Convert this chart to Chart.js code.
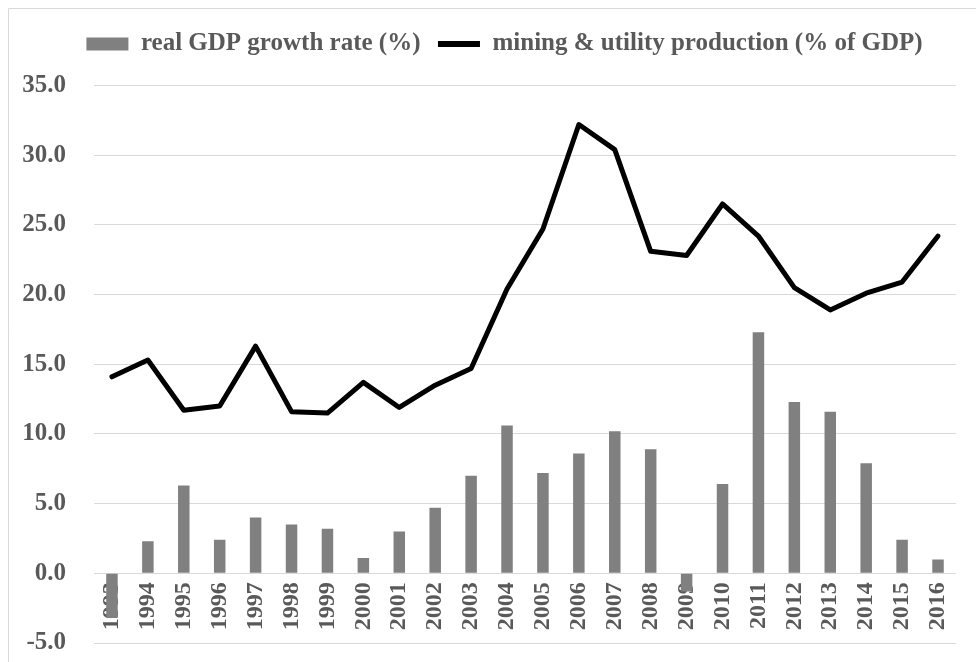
<!DOCTYPE html>
<html>
<head>
<meta charset="utf-8">
<script src="https://cdn.jsdelivr.net/npm/chart.js@4.4.0/dist/chart.umd.min.js"></script>
<style>
  html, body { margin: 0; padding: 0; background: #fff; }
  #chart { display: block; }
</style>
</head>
<body>
<canvas id="chart" width="976" height="662"></canvas>
<script>
const years = ["1993", "1994", "1995", "1996", "1997", "1998", "1999", "2000", "2001", "2002", "2003", "2004",
               "2005", "2006", "2007", "2008", "2009", "2010", "2011", "2012", "2013", "2014", "2015", "2016"];
const gdpGrowth = [-3.2, 2.3, 6.3, 2.4, 4.0, 3.5, 3.2, 1.1, 3.0, 4.7, 7.0, 10.6,
                   7.2, 8.6, 10.2, 8.9, -1.3, 6.4, 17.3, 12.3, 11.6, 7.9, 2.4, 1.0];
const miningShare = [14.1, 15.3, 11.7, 12.0, 16.3, 11.6, 11.5, 13.7, 11.9, 13.5, 14.7, 20.4,
                     24.7, 32.2, 30.4, 23.1, 22.8, 26.5, 24.2, 20.5, 18.9, 20.1, 20.9, 24.2];
const seriesNames = ["real GDP growth rate (%)", "mining & utility production (% of GDP)"];
const yMin = -5, yMax = 35, yStep = 5;

const textColor = "#595959";
const gridColor = "#d9d9d9";
const serif = "'Liberation Serif', 'Times New Roman', serif";

// light frame on left/top like the exported excel chart,
// plus a bit of room under the legend and a nudge to the right
const framePlugin = {
    id: "frame",
    afterInit(chart) {
        const lg = chart.legend;
        const fit = lg.fit;
        lg.fit = function () {
            fit.call(this);
            this.height += 19;
        };
    },
    afterLayout(chart) {
        chart.legend.left += 34;
    },
    beforeDraw(chart) {
        const c = chart.ctx;
        c.save();
        c.fillStyle = "#fff";
        c.fillRect(0, 0, chart.width, chart.height);
        c.strokeStyle = gridColor;
        c.lineWidth = 1;
        c.beginPath();
        c.moveTo(8.5, chart.height);
        c.lineTo(8.5, 8.5);
        c.lineTo(chart.width, 8.5);
        c.stroke();
        c.restore();
    }
};

new Chart(document.getElementById("chart").getContext("2d"), {
    data: {
        labels: years,
        datasets: [
            {
                type: "bar",
                label: seriesNames[0],
                data: gdpGrowth,
                backgroundColor: "#808080",
                borderWidth: 0,
                categoryPercentage: 1,
                barPercentage: 0.32
            },
            {
                type: "line",
                label: seriesNames[1],
                data: miningShare,
                borderColor: "#000",
                backgroundColor: "#000",
                borderWidth: 5,
                borderJoinStyle: "round",
                borderCapStyle: "round",
                pointRadius: 0,
                tension: 0,
                fill: false
            }
        ]
    },
    options: {
        responsive: false,
        animation: false,
        layout: { padding: { left: 8, right: 9, top: 14, bottom: 19 } },
        scales: {
            x: {
                position: { y: 0 },
                grid: { display: false, drawTicks: false },
                border: { color: gridColor },
                ticks: {
                    autoSkip: false,
                    minRotation: 90,
                    maxRotation: 90,
                    padding: 9,
                    color: textColor,
                    font: { family: serif, size: 24, weight: "bold" }
                }
            },
            y: {
                min: yMin,
                max: yMax,
                afterFit: s => {
                    s.width = 86;
                    s.paddingTop = 0;
                    s.paddingBottom = 0;
                },
                grid: { color: gridColor, drawTicks: false },
                border: { display: false },
                ticks: {
                    stepSize: yStep,
                    padding: 28,
                    color: textColor,
                    font: { family: serif, size: 25, weight: "bold" },
                    callback: v => Number(v).toFixed(1)
                }
            }
        },
        plugins: {
            legend: {
                position: "top",
                labels: {
                    usePointStyle: true,
                    pointStyleWidth: 42,
                    boxHeight: 13,
                    padding: 17.5,
                    color: textColor,
                    font: { family: serif, size: 25, weight: "bold" },
                    generateLabels: chart => chart.data.datasets.map((ds, i) => ({
                        text: ds.label,
                        datasetIndex: i,
                        fillStyle: ds.type === "bar" ? ds.backgroundColor : "#000",
                        strokeStyle: ds.type === "bar" ? ds.backgroundColor : "#000",
                        lineWidth: ds.type === "bar" ? 0 : 6,
                        pointStyle: ds.type === "bar" ? "rect" : "line",
                        fontColor: textColor,
                        hidden: false
                    }))
                }
            },
            tooltip: { enabled: false }
        }
    },
    plugins: [framePlugin]
});
</script>
</body>
</html>
